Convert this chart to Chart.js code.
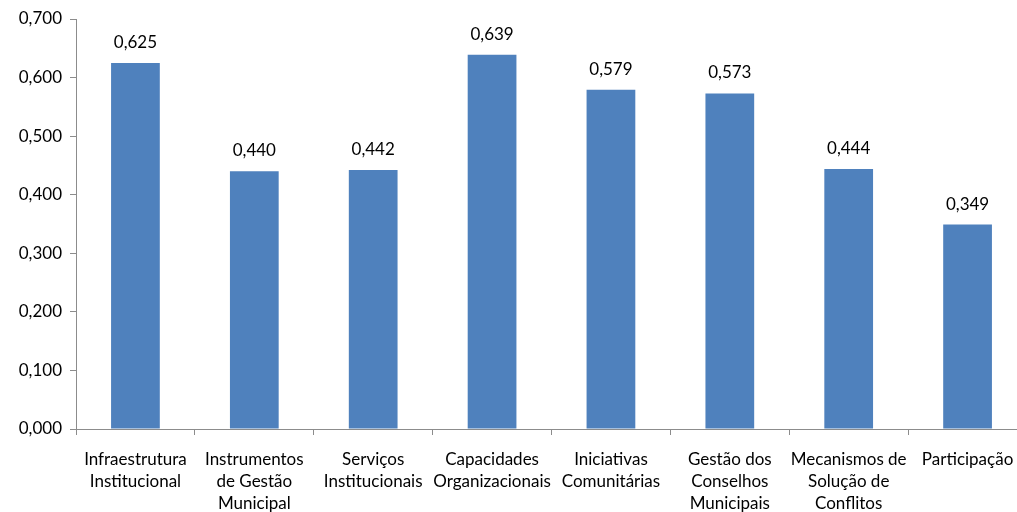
<!DOCTYPE html>
<html>
<head>
<meta charset="utf-8">
<script src="https://cdn.jsdelivr.net/npm/chart.js@4.4.1/dist/chart.umd.min.js"></script>
<style>
    html, body { margin: 0; padding: 0; background: #fff; overflow: hidden; }
    #wrap { position: relative; width: 1032px; height: 512px; }
</style>
</head>
<body>
<div id="wrap"><canvas id="indicadores"></canvas></div>
<script>
// Categorias (rótulos em várias linhas) e valores dos índices
const categorias = [
    ['Infraestrutura', 'Institucional'],
    ['Instrumentos', 'de Gestão', 'Municipal'],
    ['Serviços', 'Institucionais'],
    ['Capacidades', 'Organizacionais'],
    ['Iniciativas', 'Comunitárias'],
    ['Gestão dos', 'Conselhos', 'Municipais'],
    ['Mecanismos de', 'Solução de', 'Conflitos'],
    ['Participação']
];
const valores = [0.625, 0.440, 0.442, 0.639, 0.579, 0.573, 0.444, 0.349];
const ticksY = [0, 0.1, 0.2, 0.3, 0.4, 0.5, 0.6, 0.7];

const fonte = "'Lato', 'Open Sans', sans-serif";
const cinza = '#8c8c8c';

function fmt(v) {
    return v.toFixed(3).replace('.', ',');
}

// Escreve o valor acima de cada barra
const rotulosValores = {
    id: 'rotulosValores',
    afterDatasetsDraw(chart) {
        const ctx = chart.ctx;
        const meta = chart.getDatasetMeta(0);
        ctx.save();
        ctx.font = '17px ' + fonte;
        ctx.fillStyle = '#000';
        ctx.textAlign = 'center';
        ctx.textBaseline = 'bottom';
        meta.data.forEach(function (bar, i) {
            ctx.fillText(fmt(valores[i]), bar.x, bar.y - 12);
        });
        ctx.restore();
    }
};

new Chart(document.getElementById('indicadores'), {
    type: 'bar',
    data: {
        labels: categorias,
        datasets: [{
            data: valores,
            backgroundColor: '#4f81bd',
            borderWidth: 0,
            barPercentage: 0.41,
            categoryPercentage: 1
        }]
    },
    options: {
        responsive: true,
        maintainAspectRatio: false,
        animation: false,
        layout: { padding: { top: 19, right: 5, left: 0, bottom: 0 } },
        plugins: {
            legend: { display: false },
            tooltip: { enabled: false }
        },
        scales: {
            x: {
                afterFit: function (scale) { scale.height = 83; },
                grid: {
                    display: true,
                    drawOnChartArea: false,
                    drawTicks: true,
                    tickLength: 6,
                    color: cinza,
                    offset: true
                },
                border: { color: cinza, width: 1 },
                ticks: {
                    color: '#000',
                    font: { family: fonte, size: 17, lineHeight: 1.3 },
                    maxRotation: 0,
                    autoSkip: false,
                    padding: 13
                }
            },
            y: {
                min: 0,
                max: 0.7,
                afterFit: function (scale) { scale.width = 76; },
                afterBuildTicks: function (scale) {
                    scale.ticks = ticksY.map(function (v) { return { value: v }; });
                },
                grid: {
                    display: true,
                    drawOnChartArea: false,
                    drawTicks: true,
                    tickLength: 6,
                    color: cinza
                },
                border: { color: cinza, width: 1 },
                ticks: {
                    color: '#000',
                    font: { family: fonte, size: 17 },
                    padding: 8,
                    callback: function (v) { return fmt(v); }
                }
            }
        }
    },
    plugins: [rotulosValores]
});
</script>
</body>
</html>
